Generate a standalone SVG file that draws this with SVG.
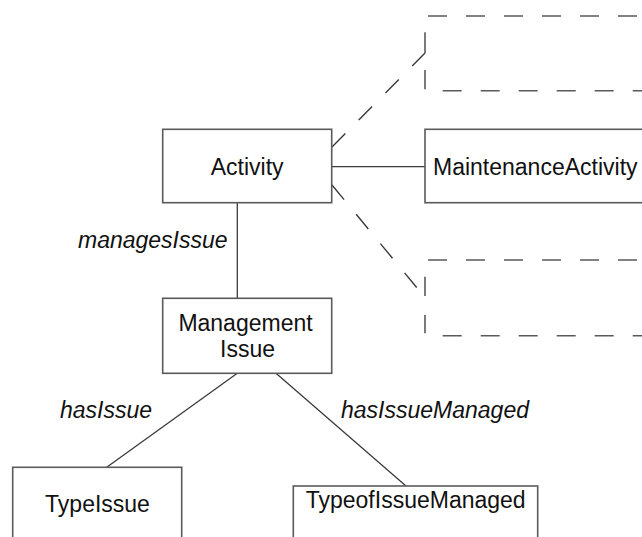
<svg xmlns="http://www.w3.org/2000/svg" width="642" height="537" viewBox="0 0 642 537">
<style>
.box{fill:#fff;stroke:#5a5a5a;stroke-width:1.6}
.dbox{fill:none;stroke:#5a5a5a;stroke-width:1.6;stroke-dasharray:19 19}
.dl{fill:none;stroke:#5a5a5a;stroke-width:1.6}
.ln{fill:none;stroke:#3a3a3a;stroke-width:1.3}
.dln{fill:none;stroke:#3a3a3a;stroke-width:1.4;stroke-dasharray:19 19}
text{font-family:"Liberation Sans",Arial,sans-serif;font-size:23px;fill:#111}
.lbl{font-style:italic}
</style>
<rect width="642" height="537" fill="#fff"/>
<g id="connectors">
<line class="ln" x1="332" y1="166.7" x2="425" y2="166.7"/>
<line class="ln" x1="237.3" y1="203" x2="237.3" y2="298"/>
<line class="ln" x1="237.3" y1="373.3" x2="106.7" y2="467.3"/>
<line class="ln" x1="276" y1="373.3" x2="406" y2="486"/>
<line class="dln" x1="332" y1="147" x2="425" y2="53"/>
<line class="dln" x1="332" y1="185" x2="425" y2="297.6"/>
<text class="lbl" x="78" y="248">managesIssue</text>
<text class="lbl" x="60" y="418">hasIssue</text>
<text class="lbl" x="341" y="418">hasIssueManaged</text>
</g>
<g id="activity">
<rect class="box" x="162.7" y="129.3" width="169" height="73.4"/>
<text x="247.2" y="175" text-anchor="middle">Activity</text>
</g>
<g id="maintenance-activity">
<rect class="box" x="425" y="129.3" width="240" height="73.4"/>
<text x="433" y="175">MaintenanceActivity</text>
</g>
<g id="dashed-top">
<line class="dbox" x1="425" y1="16" x2="660" y2="16" stroke-dashoffset="35"/>
<line class="dbox" x1="425" y1="90.7" x2="660" y2="90.7" stroke-dashoffset="20.3"/>
<path class="dl" d="M425,32.3V53.3M425,70V89.3"/>
</g>
<g id="dashed-bottom">
<line class="dbox" x1="425" y1="260" x2="660" y2="260" stroke-dashoffset="35"/>
<line class="dbox" x1="425" y1="335.7" x2="660" y2="335.7" stroke-dashoffset="20.3"/>
<path class="dl" d="M425,276.7V296M425,315V333.3"/>
</g>
<g id="management-issue">
<rect class="box" x="162.7" y="298.3" width="169" height="75"/>
<text x="245.5" y="331" text-anchor="middle">Management</text>
<text x="247.5" y="356.7" text-anchor="middle">Issue</text>
</g>
<g id="type-issue">
<rect class="box" x="12.7" y="467.3" width="169" height="90"/>
<text x="97.5" y="511.7" text-anchor="middle">TypeIssue</text>
</g>
<g id="typeof-issue-managed">
<rect class="box" x="293.3" y="486" width="244.4" height="80"/>
<text x="415.7" y="508.3" text-anchor="middle">TypeofIssueManaged</text>
</g>
</svg>
